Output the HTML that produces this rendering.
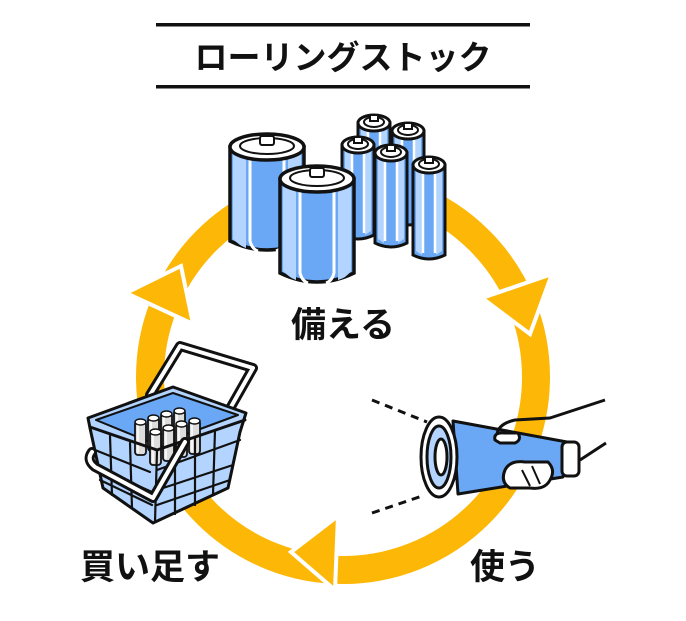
<!DOCTYPE html>
<html><head><meta charset="utf-8"><style>
html,body{margin:0;padding:0;background:#fff}
svg{display:block}
text{font-family:"Liberation Sans","Noto Sans CJK JP",sans-serif;font-weight:bold;fill:#111}
</style></head><body>
<svg width="686" height="621" viewBox="0 0 686 621" xmlns="http://www.w3.org/2000/svg">
<rect x="156" y="23" width="374" height="3.5" fill="#111"/>
<rect x="156" y="85" width="374" height="3.5" fill="#111"/>
<text x="343" y="69" font-size="33" text-anchor="middle" font-weight="900">ローリングストック</text>

<circle cx="343" cy="377" r="193" fill="none" stroke="#FDB707" stroke-width="28"/>
<g fill="#FDB707" stroke="#fff" stroke-width="4" stroke-linejoin="miter">
<polygon points="482,298 552,274 530,334"/>
<polygon points="338,516 291,552 335,590"/>
<polygon points="126,293 181,266 193,324"/>
</g>

<defs>
<g id="aa">
<path d="M0,10 L0,100 Q16,108 32,100 L32,10 Z" fill="#6AA8F5" stroke="#111" stroke-width="3"/>
<path d="M3,14 L3,96 L9,100 L9,14Z M23,14 L23,100 L29,96 L29,14Z" fill="#b3d4ff"/>
<path d="M10,14 L10,98 M22,14 L22,98" stroke="#fff" stroke-width="2.5"/>
<ellipse cx="16" cy="10" rx="16" ry="8" fill="#fff" stroke="#111" stroke-width="3"/>
<ellipse cx="16" cy="9" rx="10" ry="5" fill="#fff" stroke="#111" stroke-width="2"/>
<rect x="12" y="2" width="8" height="6" fill="#fff" stroke="#111" stroke-width="2"/>
</g>
<g id="dd">
<path d="M0,16 L0,110 Q37,128 74,110 L74,16 Z" fill="#6AA8F5" stroke="#111" stroke-width="3.5"/>
<path d="M3,20 L3,108 Q10,115 16,117 L16,20 Z M58,20 L58,117 Q66,115 71,108 L71,20Z" fill="#b3d4ff"/>
<path d="M20,22 L20,110 Q22,118 28,120 M54,22 L54,110 Q52,118 46,120" stroke="#fff" stroke-width="3" fill="none"/>
<ellipse cx="37" cy="16" rx="37" ry="13" fill="#fff" stroke="#111" stroke-width="3.5"/>
<ellipse cx="37" cy="15" rx="27" ry="8" fill="#fff" stroke="#111" stroke-width="2"/>
<rect x="30" y="5" width="14" height="9" rx="2" fill="#fff" stroke="#111" stroke-width="2"/>
</g>
<g id="sb">
<rect x="0" y="3" width="11" height="34" rx="3" fill="#ddd" stroke="#111" stroke-width="1.8"/>
<ellipse cx="5.5" cy="4" rx="5.5" ry="3" fill="#fff" stroke="#111" stroke-width="1.5"/>
<path d="M3,8 L3,34" stroke="#fff" stroke-width="1.5"/>
</g>
</defs>
<use href="#aa" x="358" y="113"/>
<use href="#aa" x="392" y="121"/>
<use href="#aa" x="342" y="135"/>
<use href="#aa" x="375" y="143"/>
<use href="#aa" x="413" y="155"/>
<use href="#dd" x="230" y="131"/>
<use href="#dd" x="280" y="163"/>
<text x="343" y="337" font-size="35" text-anchor="middle" font-weight="900">備える</text>

<g stroke="#111" stroke-width="3" stroke-linejoin="round" stroke-linecap="round">
<path d="M150,395 L180,346 L253,368 L215,435" fill="none" stroke="#111" stroke-width="10"/>
<path d="M150,395 L180,346 L253,368 L215,435" fill="none" stroke="#fff" stroke-width="4"/>
<path d="M88,418 L173,387 L246,413 L240,432 L228,488 L153,523 L103,488 L90,428 Z" fill="#b3d4ff"/>
<path d="M96,420 L173,393 L238,415 L157,445 Z" fill="#6AA8F5" stroke-width="2"/>
<use href="#sb" x="135" y="418"/><use href="#sb" x="148" y="414"/><use href="#sb" x="161" y="410"/><use href="#sb" x="174" y="407"/>
<use href="#sb" x="150" y="428"/><use href="#sb" x="163" y="424"/><use href="#sb" x="176" y="420"/><use href="#sb" x="189" y="417"/>
<path d="M90,427 L157,450 L245,420" fill="none"/>
<path d="M95,450 L150,472 M98,468 L152,492 M100,480 L152,505 M110,436 L112,495 M130,443 L132,508 M157,450 L155,522 M175,445 L175,514 M195,438 L195,505 M215,430 L213,495 M157,470 L240,440 M157,490 L233,465 M157,505 L230,480" fill="none" stroke-width="2.2"/>
<path d="M185,442 L153,498 L95,467 Q86,460 92,452" fill="none" stroke="#111" stroke-width="10"/>
<path d="M185,442 L153,498 L95,467 Q86,460 92,452" fill="none" stroke="#fff" stroke-width="4"/>
</g>
<text x="80" y="579" font-size="35" font-weight="900">買い足す</text>

<g stroke="#111" stroke-width="3" stroke-linejoin="round">
<path d="M372,400 L427,422" stroke-dasharray="8,6"/>
<path d="M372,513 L425,495" stroke-dasharray="8,6"/>
<path d="M453,421 L567,442 L563,477 L458,494 Z" fill="#6AA8F5"/>
<rect x="562" y="442" width="17" height="34" rx="5" fill="#fff"/>
<ellipse cx="439" cy="457" rx="18" ry="40" fill="#fff"/>
<ellipse cx="439" cy="457" rx="12" ry="31" fill="#b3d4ff"/>
<ellipse cx="441" cy="457" rx="6" ry="18" fill="#fff"/>
<path d="M497,436 Q497,424 515,420 L550,418 L605,400" fill="none"/>
<path d="M495,440 Q493,432 505,433 L518,433 Q522,440 515,443 L500,443 Z" fill="#fff"/>
<path d="M580,460 L606,443" fill="none"/>
<path d="M505,470 Q510,460 525,462 L548,462 Q556,470 550,480 Q545,490 530,488 L510,488 Q500,482 505,470 Z" fill="#fff"/>
<path d="M522,470 L530,486 M532,466 L540,484" fill="none" stroke-width="2"/>
</g>
<text x="470" y="579" font-size="35" font-weight="900">使う</text>
</svg>
</body></html>
